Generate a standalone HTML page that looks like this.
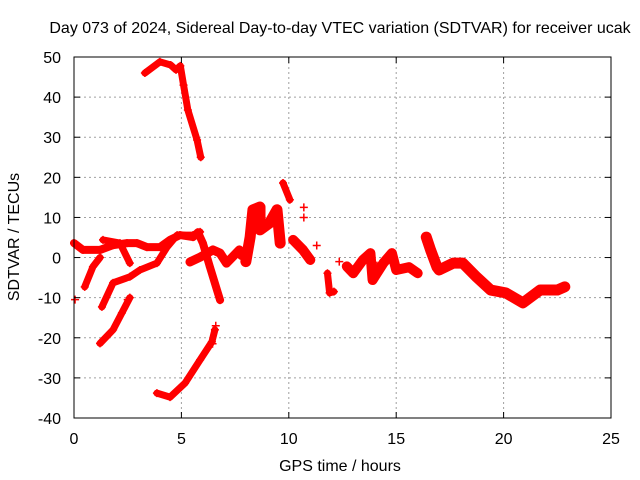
<!DOCTYPE html>
<html><head><meta charset="utf-8"><style>
body{margin:0;background:#fff}
svg{display:block;font-family:"Liberation Sans",sans-serif}
</style></head><body>
<svg id="chart" width="640" height="480">
<text x="340" y="33" text-anchor="middle" font-size="16">Day 073 of 2024, Sidereal Day-to-day VTEC variation (SDTVAR) for receiver ucak</text>
<g id="grid"></g>
<g id="series"></g>
<rect x="74" y="57" width="537" height="361" fill="none" stroke="#000" stroke-width="1"/>
<g id="ticks"></g>
<text x="340" y="471" text-anchor="middle" font-size="16">GPS time / hours</text>
<text transform="translate(19,237) rotate(-90)" text-anchor="middle" font-size="16">SDTVAR / TECUs</text>
</svg>
<script>
const xTicks=[0,5,10,15,20,25];
const yTicks=[-40,-30,-20,-10,0,10,20,30,40,50];
const trackTop=[[3.3,46],[4.0,48.8],[4.5,48],[4.75,46.8],[4.95,47.8],[5.1,43],[5.3,36.8],[5.73,29.3],[5.9,25]];
const trackBottom=[[3.86,-33.8],[4.47,-34.8],[5.17,-31.3],[5.87,-25.5],[6.42,-21],[6.56,-18]];
const trackLow=[[1.21,-21.4],[1.82,-18],[2.23,-13.8],[2.6,-10]];
const trackRise=[[1.3,-12.3],[1.82,-6.3],[2.6,-4.8],[3.07,-3.1],[3.86,-1.4],[4.33,2.6],[4.8,5.6],[5.54,5.6],[5.87,6.4]];
const trackShort=[[0.5,-7.3],[0.88,-2.3],[1.21,0]];
const trackBand=[[0,3.6],[0.42,1.9],[1.21,1.9],[1.82,3.1],[2.47,3.6],[2.93,3.6],[3.4,2.6],[4.0,2.6],[4.47,4.4],[4.93,5.6],[5.54,5.1],[5.77,6.3],[6.0,3.6],[6.33,-2.4],[6.8,-10.6]];
const trackCross=[[1.35,4.4],[2.14,3.6],[2.6,-1.4]];
const trackMid=[[5.4,-1.1],[5.87,0.1],[6.47,1.9],[6.8,1.1],[7.1,-1.4],[7.7,1.9],[7.8,0.5]];
const trackNoisy1=[[8.0,-1],[8.2,5.1],[8.33,11.9],[8.66,12.6],[8.66,6.9],[9.1,8.6],[9.45,11.9],[9.6,3.6]];
const trackPeak=[[9.73,18.6],[10.05,14.4]];
const trackNoisy2=[[10.2,4.4],[10.66,1.9],[11.0,-0.6]];
const trackNoisy3=[[11.8,-3.9],[11.9,-8.8],[12.1,-8.5]];
const trackNoisy4=[[12.7,-2.2],[13.0,-3.9],[13.45,-0.6],[13.8,1.1],[13.9,-5.6],[14.4,-1.4],[14.8,1.1],[15.0,-3.1],[15.6,-2.4],[16.0,-3.9]];
const trackEnd=[[16.4,5.1],[16.6,1.9],[16.9,-2.4],[17.0,-3.1],[17.65,-1.4],[18.1,-1.4],[18.75,-4.9],[19.4,-8.1],[20.1,-8.8],[20.9,-11.3],[21.7,-8.1],[22.5,-8.1],[22.85,-7.3]];
const isolated=[[0.05,-10.5],[2.5,-10.5],[6.6,-17],[10.7,12.5],[10.7,10],[11.3,3],[12.35,-1],[14.1,-2],[16.4,4],[6.45,-21.5]];
const series=[["track-top",trackTop,7],["track-bottom",trackBottom,7],["track-low",trackLow,7],["track-rise",trackRise,7],["track-short",trackShort,7],["track-band",trackBand,8],["track-cross",trackCross,7],["track-mid",trackMid,9],["track-noisy-1",trackNoisy1,11],["track-peak",trackPeak,7],["track-noisy-2",trackNoisy2,10],["track-noisy-3",trackNoisy3,7],["track-noisy-4",trackNoisy4,10],["track-end",trackEnd,11]];
const X0=74,X1=611,Y0=418,Y1=57;
const xs=h=>X0+(h-0)/(25-0)*(X1-X0);
const ys=v=>Y0-(v+40)/(90)*(Y0-Y1);
const NS="http://www.w3.org/2000/svg";
const grid=document.getElementById('grid'),ticks=document.getElementById('ticks'),sg=document.getElementById('series');
function mk(t,a,p){const e=document.createElementNS(NS,t);for(const k in a)e.setAttribute(k,a[k]);p.appendChild(e);return e;}
xTicks.forEach(t=>{const x=xs(t);
 if(t>0&&t<25){const l=mk('line',{x1:x,x2:x,y1:Y1,y2:Y0,stroke:'#a0a0a0','stroke-dasharray':'2,3'},grid);
 
 }
 mk('line',{x1:x,x2:x,y1:Y0,y2:Y0-6,stroke:'#000'},ticks);mk('line',{x1:x,x2:x,y1:Y1,y2:Y1+6,stroke:'#000'},ticks);
 const tx=mk('text',{x:x,y:444,'text-anchor':'middle','font-size':'16'},ticks);tx.textContent=t;
 
 });
yTicks.forEach(t=>{const y=ys(t);
 if(t>-40&&t<50){const l=mk('line',{x1:X0,x2:X1,y1:y,y2:y,stroke:'#a0a0a0','stroke-dasharray':'2,3'},grid);
 
 }
 mk('line',{x1:X0,x2:X0+6,y1:y,y2:y,stroke:'#000'},ticks);mk('line',{x1:X1,x2:X1-6,y1:y,y2:y,stroke:'#000'},ticks);
 const tx=mk('text',{x:61,y:y+6,'text-anchor':'end','font-size':'16'},ticks);tx.textContent=t;
 
 });
function plus(h,v,p){const x=xs(h),y=ys(v);
 const e=mk('path',{d:`M${x-4},${y}H${x+4}M${x},${y-4}V${y+4}`,stroke:'#f00','stroke-width':1.5},p);
 
 }
series.forEach(([name,pts,w])=>{
 const pl=mk('polyline',{points:pts.map(p=>xs(p[0])+','+ys(p[1])).join(' '),fill:'none',stroke:'#f00','stroke-width':w,'stroke-linejoin':'round','stroke-linecap':'round'},sg);
 
 
 pts.forEach(p=>plus(p[0],p[1],sg));});
isolated.forEach(p=>plus(p[0],p[1],sg));
</script>
</body></html>
